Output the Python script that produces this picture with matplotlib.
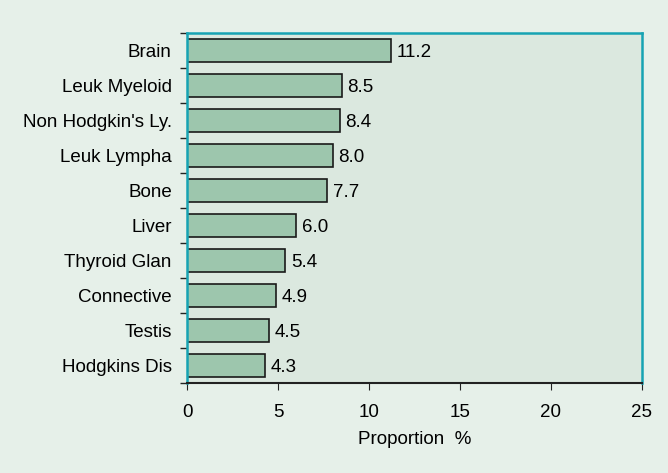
import matplotlib
matplotlib.use("Agg")
import matplotlib.pyplot as plt
import numpy as np

plt.rcParams['font.family'] = ['Liberation Sans', 'DejaVu Sans']

sites = ["Brain", "Leuk Myeloid", "Non Hodgkin's Ly.", "Leuk Lympha", "Bone",
         "Liver", "Thyroid Glan", "Connective", "Testis", "Hodgkins Dis"]
proportion = [11.2, 8.5, 8.4, 8.0, 7.7, 6.0, 5.4, 4.9, 4.5, 4.3]
x_ticks = [0, 5, 10, 15, 20, 25]

fig = plt.figure(figsize=(6.68, 4.73), dpi=100)
fig.patch.set_facecolor("#e6f0e9")
ax = fig.add_axes([0.280, 0.190, 0.681, 0.740])
ax.set_facecolor("#dbe8df")

y = np.arange(len(sites))
ax.barh(y, proportion, height=0.64, color="#9dc6ad", edgecolor="#1a1a1a", linewidth=1.2)
for yi, v in zip(y, proportion):
    ax.text(v + 0.3, yi + 0.04, f"{v:.1f}", va="center", ha="left", fontsize=13.5)

ax.set_ylim(len(sites) - 0.5, -0.5)
ax.set_xlim(0, 25)
ax.set_xticks(x_ticks)
ax.set_yticks(y)
ax.set_yticklabels(sites, fontsize=13.5)
ax.set_yticks(np.arange(-0.5, len(sites)), minor=True)
ax.tick_params(axis="y", which="major", length=0, pad=11)
ax.tick_params(axis="y", which="minor", length=5, width=1, color="#222222")
ax.tick_params(axis="x", labelsize=13.5, length=5, color="#222222", pad=10)
ax.set_xlabel("Proportion  %", fontsize=13.5, labelpad=7)

for side in ["top", "right", "left"]:
    ax.spines[side].set_color("#17a3b3")
    ax.spines[side].set_linewidth(1.8)
ax.spines["bottom"].set_color("#222222")
ax.spines["bottom"].set_linewidth(1.5)

fig.savefig("out.png", dpi=100, facecolor=fig.get_facecolor())
